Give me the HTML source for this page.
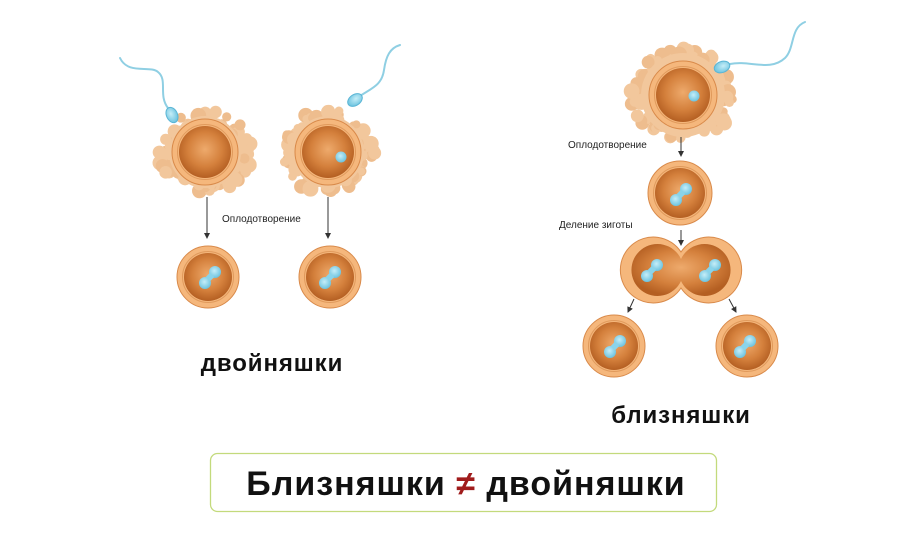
<!DOCTYPE html>
<html><head><meta charset="utf-8"><style>
html,body{margin:0;padding:0;background:#fff;}
body{width:914px;height:528px;overflow:hidden;font-family:"Liberation Sans","DejaVu Sans",sans-serif;}
</style></head><body>
<svg id="s" width="914" height="528" viewBox="0 0 914 528" xmlns="http://www.w3.org/2000/svg">
<defs>
<radialGradient id="yolk" cx="50%" cy="45%" r="55%">
<stop offset="0" stop-color="#eeaa6c"/><stop offset="0.6" stop-color="#d4803c"/><stop offset="1" stop-color="#b45f22"/>
</radialGradient>
<radialGradient id="nuc" cx="45%" cy="40%" r="60%">
<stop offset="0" stop-color="#c6eef8"/><stop offset="1" stop-color="#6cc3df"/>
</radialGradient>
<marker id="ah" markerWidth="6" markerHeight="6" refX="5" refY="3" orient="auto"><path d="M0,0 L6,3 L0,6 z" fill="#333"/></marker>
</defs>
<g id="cum"></g>
<g id="cells"></g>
<g fill="none" stroke="#8fcfe3" stroke-width="2" stroke-linecap="round">
<path d="M120,58 C128,75 150,65 158,72 C168,80 158,95 168,108"/>
<path d="M360,96 C372,88 382,85 384,70 C386,56 390,48 400,45"/>
<path d="M730,64 C750,60 770,72 785,58 C795,48 790,28 805,22"/>
</g>
<ellipse cx="172" cy="115" rx="5.5" ry="8" fill="url(#nuc)" stroke="#5ab5d5" transform="rotate(-25 172 115)"/>
<ellipse cx="355" cy="100" rx="5.5" ry="8" fill="url(#nuc)" stroke="#5ab5d5" transform="rotate(55 355 100)"/>
<ellipse cx="722" cy="67" rx="5.5" ry="8" fill="url(#nuc)" stroke="#5ab5d5" transform="rotate(70 722 67)"/>
<g stroke="#333" stroke-width="1" marker-end="url(#ah)">
<line x1="207" y1="197" x2="207" y2="238"/>
<line x1="328" y1="197" x2="328" y2="238"/>
<line x1="681" y1="137" x2="681" y2="156"/>
<line x1="681" y1="230" x2="681" y2="245"/>
<line x1="634" y1="299" x2="628" y2="312"/>
<line x1="729" y1="299" x2="736" y2="312"/>
</g>
<g font-size="10" fill="#222">
<text x="222" y="222">Оплодотворение</text>
<text x="568" y="148">Оплодотворение</text>
<text x="559" y="228">Деление зиготы</text>
</g>
<g font-weight="bold" font-size="24" fill="#111" text-anchor="middle" letter-spacing="0.9">
<text x="272" y="371">двойняшки</text>
<text x="681" y="423">близняшки</text>
</g>
<rect x="210.5" y="453.5" width="506" height="58" rx="7" fill="#fff" stroke="#c3da7c" stroke-width="1.3"/>
<text x="466" y="495" text-anchor="middle" font-weight="bold" font-size="34" letter-spacing="1" fill="#111">Близняшки <tspan fill="#a01c1c">≠</tspan> двойняшки</text>
</svg>
<script>
var NS="http://www.w3.org/2000/svg";
function el(p,t,a){var e=document.createElementNS(NS,t);for(var k in a)e.setAttribute(k,a[k]);p.appendChild(e);return e;}
var cum=document.getElementById("cum"),cells=document.getElementById("cells");
var seed=7;function rnd(){seed=(seed*9301+49297)%233280;return seed/233280;}
function cumulus(cx,cy,R){
 for(var i=0;i<90;i++){var a=rnd()*Math.PI*2,r=R-14+rnd()*15;
  el(cum,"circle",{cx:cx+Math.cos(a)*r,cy:cy+Math.sin(a)*r*0.9,r:4+rnd()*4,fill:i%3?"#f2c79c":"#eebd8e"});}
 el(cum,"circle",{cx:cx,cy:cy,r:R-10,fill:"#f2c79c"});
}
function egg(cx,cy,ro,ri){
 el(cells,"circle",{cx:cx,cy:cy,r:ro,fill:"#f5b77c",stroke:"#d98a4a","stroke-width":1});
 el(cells,"circle",{cx:cx,cy:cy,r:ri+1.5,fill:"none",stroke:"#e09a5c","stroke-width":1});
 el(cells,"circle",{cx:cx,cy:cy,r:ri,fill:"url(#yolk)"});
}
function nucs(cx,cy,s){s=s||1;
 el(cells,"circle",{cx:cx-5*s,cy:cy+6*s,r:6*s,fill:"url(#nuc)"});
 el(cells,"circle",{cx:cx+5*s,cy:cy-5*s,r:6*s,fill:"url(#nuc)"});
 el(cells,"rect",{x:cx-3*s,y:cy-3*s,width:6*s,height:6*s,fill:"#8ad4ea",transform:"rotate(45 "+cx+" "+cy+")"});
}
cumulus(205,152,46);cumulus(328,152,46);cumulus(683,95,52);
egg(205,152,33,26);egg(328,152,33,26);egg(683,95,34,27);
el(cells,"circle",{cx:341,cy:157,r:5.5,fill:"url(#nuc)"});
el(cells,"circle",{cx:694,cy:96,r:5.5,fill:"url(#nuc)"});
egg(208,277,31,24);nucs(210,277);
egg(330,277,31,24);nucs(330,277);
egg(680,193,32,25);nucs(681,194);
el(cells,"path",{d:"M681,252 A33,33 0 1 0 681,288 A33,33 0 1 0 681,252 Z",fill:"#f5b77c",stroke:"#d98a4a","stroke-width":1});
el(cells,"path",{d:"M681,259 A26,26 0 1 0 681,281 A26,26 0 1 0 681,259 Z",fill:"url(#yolk)"});
nucs(652,270);nucs(710,270);
egg(614,346,31,24);nucs(615,346);
egg(747,346,31,24);nucs(745,346);
</script>
</body></html>
